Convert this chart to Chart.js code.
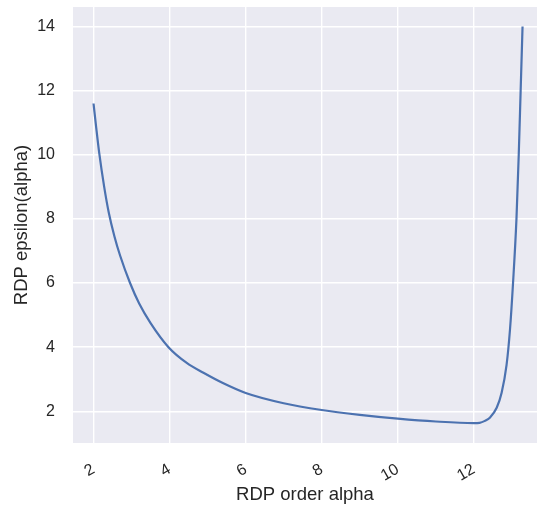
<!DOCTYPE html>
<html>
<head>
<meta charset="utf-8">
<script src="https://cdn.jsdelivr.net/npm/chart.js@4/dist/chart.umd.min.js"></script>
<style>
  html, body { margin: 0; padding: 0; background: #fff; }
  #wrap { width: 537px; height: 506px; }
</style>
</head>
<body>
<div id="wrap"><canvas id="rdpChart" width="537" height="506"></canvas></div>
<script>
// RDP order alpha (x) e epsilon(alpha) (y)
const alphaOrders = [2.0, 2.07, 2.15, 2.28, 2.4, 2.55, 2.7, 2.96, 3.2, 3.5, 3.97, 4.45, 4.89, 5.4, 6.0, 7.0, 8.0, 9.0, 10.0, 11.0, 12.0, 12.15, 12.29, 12.42, 12.6, 12.73, 12.86, 12.95, 13.03, 13.12, 13.18, 13.23, 13.28];
const epsilonValues = [11.6, 10.85, 10.05, 9.0, 8.2, 7.45, 6.85, 6.0, 5.36, 4.75, 4.0, 3.51, 3.2, 2.88, 2.57, 2.25, 2.04, 1.89, 1.77, 1.68, 1.63, 1.64, 1.70, 1.80, 2.11, 2.58, 3.45, 4.55, 6.0, 8.0, 10.0, 12.0, 14.0];
const xTicks = [2, 4, 6, 8, 10, 12];
const yTicks = [2, 4, 6, 8, 10, 12, 14];

const points = alphaOrders.map((a, i) => ({ x: a, y: epsilonValues[i] }));

// fundo cinza estilo seaborn na área do gráfico
const plotBackground = {
    id: 'plotBackground',
    beforeDraw(chart) {
        const { ctx, chartArea } = chart;
        ctx.save();
        ctx.fillStyle = '#EAEAF2';
        ctx.fillRect(chartArea.left, chartArea.top, chartArea.right - chartArea.left, chartArea.bottom - chartArea.top);
        ctx.restore();
    }
};

const font = { family: '"Liberation Sans", Arial, sans-serif' };

new Chart(document.getElementById('rdpChart').getContext('2d'), {
    type: 'line',
    data: {
        datasets: [{
            data: points,
            borderColor: '#4C72B0',
            borderWidth: 2.2,
            pointRadius: 0,
            fill: false,
            cubicInterpolationMode: 'monotone'
        }]
    },
    options: {
        responsive: false,
        animation: false,
        layout: { padding: { top: 7, left: 0, right: 0, bottom: 0 } },
        plugins: {
            legend: { display: false },
            tooltip: { enabled: false }
        },
        scales: {
            x: {
                type: 'linear',
                min: 1.46,
                max: 13.66,
                afterBuildTicks: s => { s.ticks = xTicks.map(v => ({ value: v })); },
                afterFit: s => { s.height = 63; },
                grid: { color: '#ffffff', lineWidth: 1.4, tickLength: 17, tickColor: 'rgba(0,0,0,0)' },
                border: { display: false },
                ticks: {
                    minRotation: 30, maxRotation: 30, padding: 0,
                    color: '#262626', font: { ...font, size: 16 }
                },
                title: {
                    display: true, text: 'RDP order alpha', color: '#262626',
                    font: { ...font, size: 18.5 }, padding: { top: 0, bottom: 0 }
                }
            },
            y: {
                min: 1.01,
                max: 14.61,
                afterBuildTicks: s => { s.ticks = yTicks.map(v => ({ value: v })); },
                afterFit: s => { s.width = 73; },
                grid: { color: '#ffffff', lineWidth: 1.4, tickLength: 18, tickColor: 'rgba(0,0,0,0)' },
                border: { display: false },
                ticks: { padding: 0, color: '#262626', font: { ...font, size: 16, lineHeight: 0.85 } },
                title: {
                    display: true, text: 'RDP epsilon(alpha)', color: '#262626',
                    font: { ...font, size: 18.5 }, padding: { top: 11, bottom: 0 }
                }
            }
        }
    },
    plugins: [plotBackground]
});
</script>
</body>
</html>
